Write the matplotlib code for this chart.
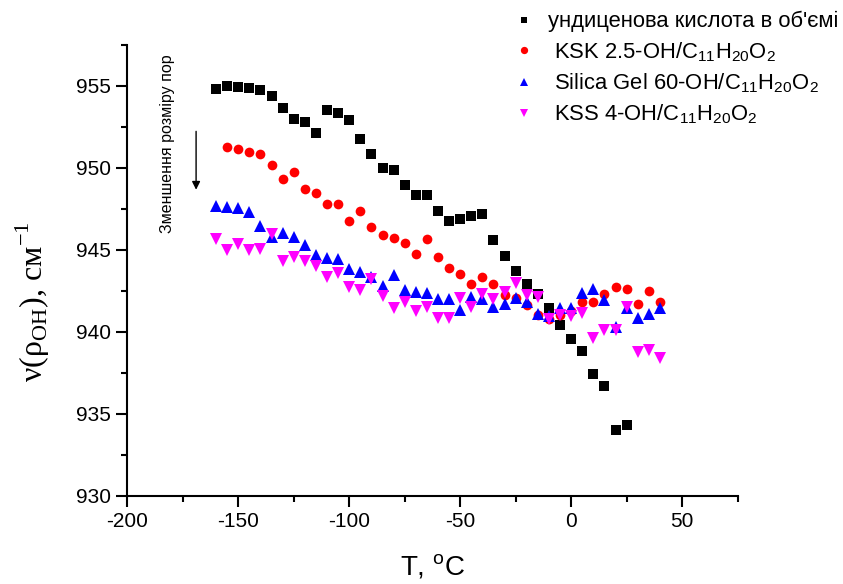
import numpy as np
import matplotlib
matplotlib.use('Agg')
import matplotlib.pyplot as plt
from matplotlib.ticker import MultipleLocator

plt.rcParams['font.family'] = ['Liberation Sans', 'DejaVu Sans']
plt.rcParams['axes.unicode_minus'] = False

# temperature, deg C (5-degree steps)
t_acid = np.arange(-160, 26, 5)
t_other = np.arange(-160, 41, 5)
t_ksk = np.arange(-155, 41, 5)

acid_bulk = [954.84, 955.00, 954.96, 954.86, 954.78, 954.40, 953.66, 952.97,
             952.83, 952.16, 953.52, 953.32, 952.93, 951.75, 950.85, 950.00,
             949.90, 948.96, 948.32, 948.32, 947.36, 946.75, 946.87, 947.07,
             947.16, 945.63, 944.60, 943.70, 942.93, 942.30, 941.46, 940.43,
             939.57, 938.84, 937.42, 936.71, 934.02, 934.31]

ksk = [951.26, 951.14, 951.00, 950.82, 950.16, 949.31, 949.78, 948.70,
       948.46, 947.80, 947.80, 946.77, 947.38, 946.38, 945.90, 945.70,
       945.43, 944.74, 945.67, 944.55, 943.90, 943.56, 942.95, 943.32,
       942.95, 942.24, 942.04, 941.63, 941.02, 940.76, 941.00, 941.30,
       941.80, 941.83, 942.34, 942.71, 942.60, 941.69, 942.50, 941.81]

silica = [947.66, 947.62, 947.58, 947.34, 946.45, 945.76, 946.04, 945.79,
          945.27, 944.70, 944.48, 944.43, 943.82, 943.66, 943.32, 942.80,
          943.48, 942.54, 942.42, 942.38, 942.00, 942.00, 941.32, 942.13,
          942.00, 941.52, 941.73, 942.04, 941.80, 941.06, 940.96, 941.43,
          941.43, 942.38, 942.59, 941.93, 940.27, 941.46, 940.82, 941.06,
          941.43]

kss = [945.67, 944.98, 945.35, 945.02, 945.06, 946.00, 944.33, 944.57,
       944.33, 944.00, 943.32, 943.60, 942.71, 942.54, 943.23, 942.20,
       941.44, 941.85, 941.28, 941.52, 940.85, 940.85, 942.04, 941.52,
       942.30, 941.98, 942.42, 942.99, 942.26, 942.10, 940.76, 941.02,
       940.96, 941.16, 939.63, 940.10, 940.10, 941.52, 938.78, 938.88,
       938.41]

sub = r'OH/C$_{\mathregular{11}}$H$_{\mathregular{20}}$O$_{\mathregular{2}}$'
labels = ['ундиценова кислота в об\'ємі',
          ' KSK 2.5-' + sub,
          ' Silica Gel 60-' + sub,
          ' KSS 4-' + sub]

fig = plt.figure(figsize=(8.43, 5.84), dpi=100)
ax = fig.add_axes([0.151, 0.151, 0.724, 0.772])

ax.plot(t_acid, acid_bulk, 's', color='black', ms=6.5, mew=0, label=labels[0])
ax.plot(t_ksk, ksk, 'o', color='red', ms=7, mew=0, label=labels[1])
ax.plot(t_other, silica, '^', color='blue', ms=8, mew=0, label=labels[2])
ax.plot(t_other, kss, 'v', color='magenta', ms=8, mew=0, label=labels[3])

ax.set_xlim(-200, 75)
ax.set_ylim(930, 957.5)
ax.xaxis.set_major_locator(MultipleLocator(50))
ax.xaxis.set_minor_locator(MultipleLocator(25))
ax.yaxis.set_major_locator(MultipleLocator(5))
ax.yaxis.set_minor_locator(MultipleLocator(2.5))

for s in ['top', 'right']:
    ax.spines[s].set_visible(False)
for s in ['left', 'bottom']:
    ax.spines[s].set_linewidth(1.5)
ax.tick_params(which='major', direction='out', length=8, width=1.5, labelsize=15)
ax.tick_params(which='minor', direction='out', length=4, width=1.5)

ax.set_xlabel(r'T, $^{\mathregular{o}}$C', fontsize=20, labelpad=16)
ax.set_ylabel(r'ν(ρ$_{\mathregular{OH}}$), см$^{\mathregular{-1}}$',
              fontsize=23, family='Liberation Serif')
ax.yaxis.set_label_coords(-0.124, 0.43)

ax.text(-181.7, 951.5, 'Зменшення розміру пор', rotation=90,
        ha='center', va='center', fontsize=11.5)
ax.annotate('', xy=(-169, 948.5), xytext=(-169, 952.4),
            arrowprops=dict(arrowstyle='-|>', color='black', lw=1,
                            mutation_scale=12))

fig.legend(loc='upper left', bbox_to_anchor=(0.595, 0.996), frameon=False,
           fontsize=15.8, handletextpad=0.53, labelspacing=0.35,
           borderaxespad=0, handlelength=1.2, markerscale=0.75)

fig.savefig('out.png', dpi=100)
